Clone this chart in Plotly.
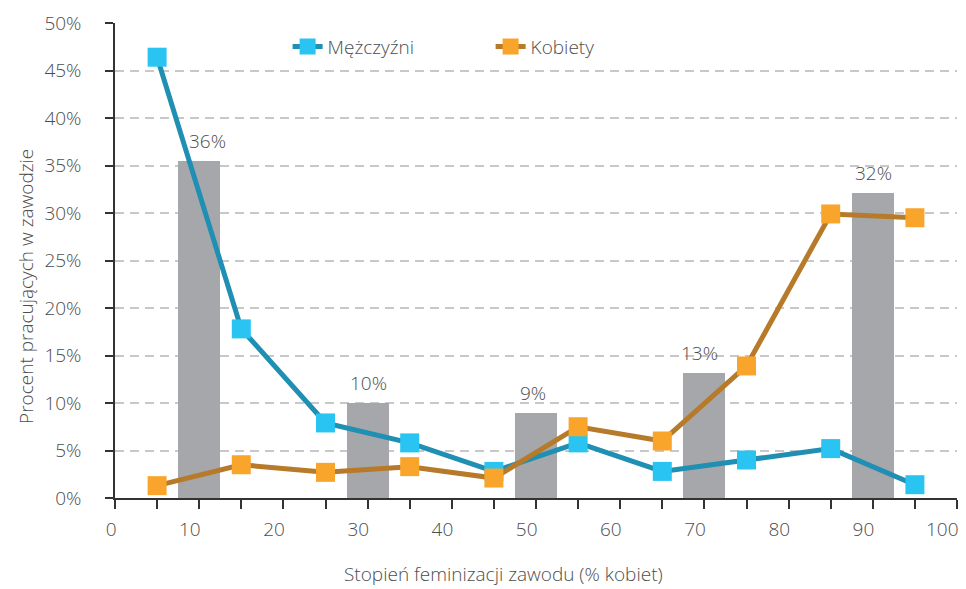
import plotly.graph_objects as go

# Data
line_x = [5, 15, 25, 35, 45, 55, 65, 75, 85, 95]
men = [46.4, 17.8, 7.9, 5.8, 2.8, 5.8, 2.8, 4.0, 5.2, 1.4]
women = [1.3, 3.5, 2.7, 3.3, 2.1, 7.5, 6.0, 13.9, 29.9, 29.5]
bar_x = [10, 30, 50, 70, 90]
bar_vals = [35.5, 10.0, 9.0, 13.2, 32.1]
bar_labels = ["36%", "10%", "9%", "13%", "32%"]
y_ticks = [0, 5, 10, 15, 20, 25, 30, 35, 40, 45, 50]
y_ticklabels = [f"{v}%" for v in y_ticks]
x_title = "Stopień feminizacji zawodu (% kobiet)"
y_title = "Procent pracujących w zawodzie"

FONT = "Open Sans"
TXT = "#4d4d4d"
FS = 19
W = 300
# per-label horizontal nudges (style only)
label_xshift = [8, 1, -3, -5, 1]

fig = go.Figure()
fig.add_trace(go.Bar(
    x=bar_x, y=bar_vals, width=5, marker=dict(color="#a6a7aa", line=dict(width=0)),
    showlegend=False, hoverinfo="skip"))
fig.add_trace(go.Scatter(
    x=line_x, y=men, name="Mężczyźni", mode="lines+markers",
    line=dict(color="#1f8fb3", width=5),
    marker=dict(symbol="square", size=19, color="#29c4f2")))
fig.add_trace(go.Scatter(
    x=line_x, y=women, name="Kobiety", mode="lines+markers",
    line=dict(color="#b77a2a", width=5),
    marker=dict(symbol="square", size=19, color="#f9a52b")))

for bx, bv, bl, xs in zip(bar_x, bar_vals, bar_labels, label_xshift):
    fig.add_annotation(x=bx, y=bv, text=bl, showarrow=False, yanchor="bottom",
                       xshift=xs, yshift=5, font=dict(size=FS, color=TXT, family=FONT, weight=W))

fig.add_annotation(xref="paper", yref="paper", x=0.461, y=-0.16, text=x_title,
                   showarrow=False, xanchor="center", yanchor="middle", borderpad=0,
                   font=dict(size=FS, color=TXT, family=FONT, weight=W))
fig.add_annotation(xref="paper", yref="paper", x=-0.106, y=0.446, text=y_title,
                   showarrow=False, xanchor="center", yanchor="middle", textangle=-90,
                   font=dict(size=FS, color=TXT, family=FONT, weight=W))

# page body has an 8px margin, so the figure is sized 8px smaller
fig.update_layout(
    width=958, height=581,
    margin=dict(l=107, r=9, t=15, b=91, autoexpand=False),
    plot_bgcolor="white", paper_bgcolor="white",
    font=dict(family=FONT, size=FS, color=TXT, weight=W),
    bargap=0,
    legend=dict(orientation="h", x=0.205, y=0.95, xanchor="left", yanchor="middle",
                font=dict(size=FS, color=TXT, weight=W), entrywidth=158, bgcolor="rgba(0,0,0,0)"),
    xaxis=dict(
        range=[0, 100], tickmode="array", tickvals=list(range(0, 101, 10)),
        ticks="outside", ticklen=9, tickcolor="#333", tickwidth=1.5,
        minor=dict(dtick=5, ticks="outside", ticklen=9, tickcolor="#333", tickwidth=1.5),
        showline=True, linecolor="#333", linewidth=1.5, showgrid=False, zeroline=False,
        tickfont=dict(size=FS, color=TXT, weight=W), ticklabelposition="outside left",
        ticklabelshift=3, ticklabelstandoff=13,
        ticklabeloverflow="allow", automargin=False,
    ),
    yaxis=dict(
        range=[0, 50], tickmode="array", tickvals=y_ticks, ticktext=y_ticklabels,
        ticks="outside", ticklen=8, tickcolor="#333", tickwidth=1.5,
        showline=True, linecolor="#333", linewidth=1.5,
        showgrid=True, gridcolor="#c8c8c8", gridwidth=1.5, griddash="9px,6px", zeroline=False,
        tickfont=dict(size=FS, color=TXT, weight=W), ticklabelstandoff=20, automargin=False,
    ),
)

fig.write_html("out.html")
